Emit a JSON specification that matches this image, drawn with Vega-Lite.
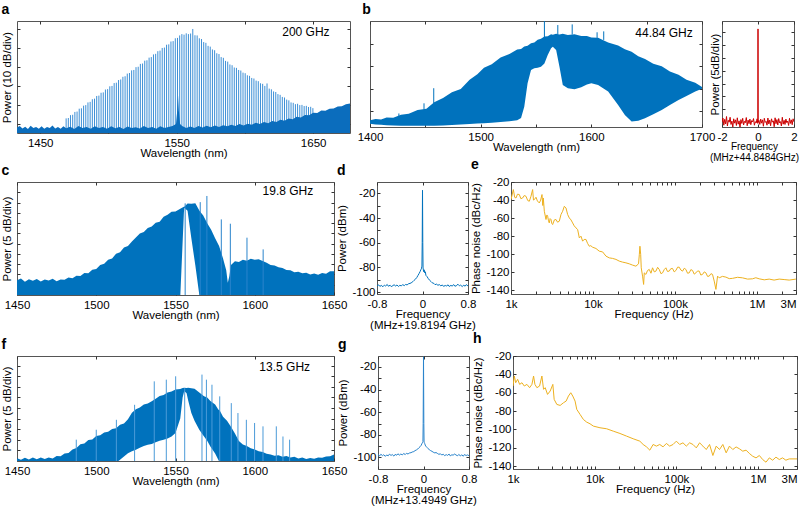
{
"$schema":"https://vega.github.io/schema/vega-lite/v6.json",
"padding":{"left":1,"top":2,"right":0,"bottom":0},
"datasets":{
"a_comb":[{"wl":1469.0,"p":-67.0},{"wl":1470.6,"p":-66.8},{"wl":1472.2,"p":-65.3},{"wl":1473.8,"p":-65.1},{"wl":1475.4,"p":-63.6},{"wl":1477.0,"p":-63.4},{"wl":1478.6,"p":-61.9},{"wl":1480.2,"p":-61.7},{"wl":1481.8,"p":-60.3},{"wl":1483.4,"p":-60.0},{"wl":1485.0,"p":-58.6},{"wl":1486.6,"p":-58.3},{"wl":1488.2,"p":-56.9},{"wl":1489.8,"p":-56.6},{"wl":1491.4,"p":-55.2},{"wl":1493.0,"p":-55.0},{"wl":1494.6,"p":-53.5},{"wl":1496.2,"p":-53.3},{"wl":1497.8,"p":-51.8},{"wl":1499.4,"p":-51.6},{"wl":1501.0,"p":-50.1},{"wl":1502.6,"p":-49.9},{"wl":1504.2,"p":-48.4},{"wl":1505.8,"p":-48.2},{"wl":1507.4,"p":-46.8},{"wl":1509.0,"p":-46.5},{"wl":1510.6,"p":-45.1},{"wl":1512.2,"p":-44.8},{"wl":1513.8,"p":-43.4},{"wl":1515.4,"p":-43.1},{"wl":1517.0,"p":-41.7},{"wl":1518.6,"p":-41.5},{"wl":1520.2,"p":-40.0},{"wl":1521.8,"p":-39.8},{"wl":1523.4,"p":-38.3},{"wl":1525.0,"p":-38.1},{"wl":1526.6,"p":-36.6},{"wl":1528.2,"p":-36.4},{"wl":1529.8,"p":-35.0},{"wl":1531.4,"p":-34.7},{"wl":1533.0,"p":-33.3},{"wl":1534.6,"p":-33.0},{"wl":1536.2,"p":-31.6},{"wl":1537.8,"p":-31.3},{"wl":1539.4,"p":-29.9},{"wl":1541.0,"p":-29.7},{"wl":1542.6,"p":-28.2},{"wl":1544.2,"p":-28.0},{"wl":1545.8,"p":-26.5},{"wl":1547.4,"p":-26.3},{"wl":1549.0,"p":-24.8},{"wl":1550.6,"p":-24.6},{"wl":1552.2,"p":-23.3},{"wl":1553.8,"p":-22.6},{"wl":1555.4,"p":-22.9},{"wl":1557.0,"p":-22.2},{"wl":1558.6,"p":-22.6},{"wl":1560.2,"p":-22.3},{"wl":1561.8,"p":-19.9},{"wl":1563.4,"p":-23.2},{"wl":1565.0,"p":-23.3},{"wl":1566.6,"p":-24.8},{"wl":1568.2,"p":-25.2},{"wl":1569.8,"p":-26.8},{"wl":1571.4,"p":-27.2},{"wl":1573.0,"p":-28.8},{"wl":1574.6,"p":-29.2},{"wl":1576.2,"p":-30.7},{"wl":1577.8,"p":-31.1},{"wl":1579.4,"p":-32.7},{"wl":1581.0,"p":-33.1},{"wl":1582.6,"p":-34.7},{"wl":1584.2,"p":-35.1},{"wl":1585.8,"p":-36.7},{"wl":1587.4,"p":-37.1},{"wl":1589.0,"p":-38.6},{"wl":1590.6,"p":-39.0},{"wl":1592.2,"p":-40.2},{"wl":1593.8,"p":-40.4},{"wl":1595.4,"p":-41.5},{"wl":1597.0,"p":-41.8},{"wl":1598.6,"p":-42.9},{"wl":1600.2,"p":-43.2},{"wl":1601.8,"p":-44.3},{"wl":1603.4,"p":-44.6},{"wl":1605.0,"p":-45.7},{"wl":1606.6,"p":-46.0},{"wl":1608.2,"p":-47.1},{"wl":1609.8,"p":-47.4},{"wl":1611.4,"p":-48.5},{"wl":1613.0,"p":-48.8},{"wl":1614.6,"p":-49.9},{"wl":1616.2,"p":-48.6},{"wl":1617.8,"p":-51.3},{"wl":1619.4,"p":-51.7},{"wl":1621.0,"p":-52.8},{"wl":1622.6,"p":-53.1},{"wl":1624.2,"p":-54.2},{"wl":1625.8,"p":-54.6},{"wl":1627.4,"p":-55.7},{"wl":1629.0,"p":-56.0},{"wl":1630.6,"p":-57.1},{"wl":1632.2,"p":-57.5},{"wl":1633.8,"p":-58.6},{"wl":1635.4,"p":-58.8},{"wl":1637.0,"p":-59.5},{"wl":1638.6,"p":-59.3},{"wl":1640.2,"p":-60.0},{"wl":1641.8,"p":-59.9},{"wl":1643.4,"p":-60.5},{"wl":1645.0,"p":-60.4},{"wl":1646.6,"p":-61.0},{"wl":1648.2,"p":-60.9},{"wl":1649.8,"p":-61.6}],
"a_floor":[{"wl":1433,"p":-71.8},{"wl":1435,"p":-71.0},{"wl":1437,"p":-72.3},{"wl":1439,"p":-71.4},{"wl":1441,"p":-72.6},{"wl":1443,"p":-70.9},{"wl":1445,"p":-72.0},{"wl":1447,"p":-71.5},{"wl":1449,"p":-72.4},{"wl":1451,"p":-71.2},{"wl":1453,"p":-72.5},{"wl":1455,"p":-71.6},{"wl":1457,"p":-72.1},{"wl":1459,"p":-70.8},{"wl":1461,"p":-72.3},{"wl":1463,"p":-71.5},{"wl":1465,"p":-72.4},{"wl":1467,"p":-71.1},{"wl":1469,"p":-72.2},{"wl":1472,"p":-71.4},{"wl":1475,"p":-72.6},{"wl":1478,"p":-71.0},{"wl":1481,"p":-72.1},{"wl":1484,"p":-71.5},{"wl":1487,"p":-72.5},{"wl":1490,"p":-71.2},{"wl":1493,"p":-72.0},{"wl":1496,"p":-71.6},{"wl":1499,"p":-72.4},{"wl":1502,"p":-71.1},{"wl":1505,"p":-72.2},{"wl":1508,"p":-71.5},{"wl":1511,"p":-72.6},{"wl":1514,"p":-71.3},{"wl":1517,"p":-72.0},{"wl":1520,"p":-71.7},{"wl":1523,"p":-72.3},{"wl":1526,"p":-71.0},{"wl":1529,"p":-72.1},{"wl":1532,"p":-71.6},{"wl":1535,"p":-72.4},{"wl":1538,"p":-71.2},{"wl":1541,"p":-72.0},{"wl":1544,"p":-71.5},{"wl":1547,"p":-71.0},{"wl":1549.5,"p":-70.0},{"wl":1550.4,"p":-63.0},{"wl":1551,"p":-55.0},{"wl":1551.6,"p":-63.0},{"wl":1552.5,"p":-70.0},{"wl":1554,"p":-71.0},{"wl":1557,"p":-72.0},{"wl":1560,"p":-71.3},{"wl":1563,"p":-72.1},{"wl":1566,"p":-71.0},{"wl":1569,"p":-71.8},{"wl":1572,"p":-70.9},{"wl":1575,"p":-71.7},{"wl":1578,"p":-70.8},{"wl":1581,"p":-71.5},{"wl":1584,"p":-70.6},{"wl":1587,"p":-71.2},{"wl":1590,"p":-70.3},{"wl":1593,"p":-71.0},{"wl":1596,"p":-70.0},{"wl":1599,"p":-70.8},{"wl":1602,"p":-69.8},{"wl":1605,"p":-70.4},{"wl":1608,"p":-69.3},{"wl":1611,"p":-70.0},{"wl":1614,"p":-68.9},{"wl":1617,"p":-69.5},{"wl":1620,"p":-68.4},{"wl":1623,"p":-68.9},{"wl":1626,"p":-67.7},{"wl":1629,"p":-68.2},{"wl":1632,"p":-67.0},{"wl":1635,"p":-67.4},{"wl":1638,"p":-66.2},{"wl":1641,"p":-66.5},{"wl":1644,"p":-65.2},{"wl":1647,"p":-65.4},{"wl":1650,"p":-64.0},{"wl":1653,"p":-64.2},{"wl":1656,"p":-62.9},{"wl":1659,"p":-63.0},{"wl":1662,"p":-61.9},{"wl":1665,"p":-61.8},{"wl":1668,"p":-60.7},{"wl":1671,"p":-60.6},{"wl":1674,"p":-59.5},{"wl":1677,"p":-59.2}],
"b_env":[{"wl":1400,"top":-54.0,"bot":-55.6},{"wl":1405,"top":-53.4,"bot":-55.9},{"wl":1410,"top":-53.7,"bot":-56.0},{"wl":1415,"top":-52.8,"bot":-56.2},{"wl":1421,"top":-52.9,"bot":-56.3},{"wl":1428,"top":-51.6,"bot":-56.4},{"wl":1435,"top":-51.1,"bot":-56.5},{"wl":1443,"top":-49.5,"bot":-56.5},{"wl":1451,"top":-48.9,"bot":-56.5},{"wl":1458,"top":-46.0,"bot":-56.4},{"wl":1466,"top":-44.1,"bot":-56.3},{"wl":1474,"top":-41.6,"bot":-56.1},{"wl":1482,"top":-40.1,"bot":-55.9},{"wl":1490,"top":-36.1,"bot":-55.7},{"wl":1497,"top":-33.6,"bot":-55.5},{"wl":1503,"top":-30.7,"bot":-55.3},{"wl":1510,"top":-29.2,"bot":-55.1},{"wl":1518,"top":-26.2,"bot":-54.8},{"wl":1526,"top":-24.6,"bot":-54.5},{"wl":1533,"top":-22.6,"bot":-54.0},{"wl":1536.5,"top":-22.4,"bot":-53.0},{"wl":1539.4,"top":-21.3,"bot":-48.0},{"wl":1542.4,"top":-21.0,"bot":-37.6},{"wl":1545.5,"top":-19.9,"bot":-31.7},{"wl":1548.5,"top":-19.5,"bot":-31.0},{"wl":1551.5,"top":-18.3,"bot":-30.7},{"wl":1554.5,"top":-17.9,"bot":-30.3},{"wl":1557.6,"top":-16.9,"bot":-28.8},{"wl":1560.6,"top":-16.8,"bot":-25.1},{"wl":1563.6,"top":-15.9,"bot":-22.1},{"wl":1565.2,"top":-16.1,"bot":-21.4},{"wl":1568.2,"top":-15.6,"bot":-22.9},{"wl":1571.2,"top":-16.0,"bot":-30.3},{"wl":1574.2,"top":-15.7,"bot":-38.4},{"wl":1578.8,"top":-16.2,"bot":-39.8},{"wl":1584.8,"top":-15.9,"bot":-40.3},{"wl":1590.9,"top":-16.6,"bot":-39.4},{"wl":1596,"top":-16.6,"bot":-38.2},{"wl":1600,"top":-17.3,"bot":-37.6},{"wl":1606.1,"top":-17.4,"bot":-38.4},{"wl":1615.2,"top":-19.5,"bot":-41.3},{"wl":1624.2,"top":-20.9,"bot":-47.2},{"wl":1630.3,"top":-22.5,"bot":-51.7},{"wl":1636.4,"top":-23.6,"bot":-54.6},{"wl":1642.4,"top":-25.6,"bot":-54.2},{"wl":1648.5,"top":-26.8,"bot":-53.1},{"wl":1656,"top":-28.9,"bot":-51.3},{"wl":1663.6,"top":-30.1,"bot":-49.5},{"wl":1671,"top":-32.4,"bot":-47.3},{"wl":1678.8,"top":-33.8,"bot":-45.0},{"wl":1686,"top":-36.0,"bot":-43.2},{"wl":1693.9,"top":-37.4,"bot":-41.3},{"wl":1700,"top":-39.3,"bot":-40.0}],
"b_spk":[{"wl":1426.1,"top":-51.0,"base":-53.3},{"wl":1448.8,"top":-46.5,"base":-49.3},{"wl":1457.6,"top":-39.8,"base":-46.6},{"wl":1557.6,"top":-10.0,"base":-17.1},{"wl":1569.7,"top":-11.8,"base":-15.8},{"wl":1582.7,"top":-11.5,"base":-16.0},{"wl":1605.2,"top":-15.0,"base":-17.5},{"wl":1611.2,"top":-14.6,"base":-18.4}],
"inset":[{"f":-2.00,"p":-70.2},{"f":-1.95,"p":-68.5},{"f":-1.90,"p":-71.3},{"f":-1.85,"p":-69.0},{"f":-1.80,"p":-70.8},{"f":-1.75,"p":-67.9},{"f":-1.70,"p":-71.6},{"f":-1.65,"p":-69.4},{"f":-1.60,"p":-70.1},{"f":-1.55,"p":-68.2},{"f":-1.50,"p":-71.0},{"f":-1.45,"p":-69.7},{"f":-1.40,"p":-72.0},{"f":-1.35,"p":-68.8},{"f":-1.30,"p":-70.5},{"f":-1.25,"p":-69.2},{"f":-1.20,"p":-71.4},{"f":-1.15,"p":-68.4},{"f":-1.10,"p":-70.9},{"f":-1.05,"p":-69.6},{"f":-1.00,"p":-72.3},{"f":-0.95,"p":-69.1},{"f":-0.90,"p":-70.6},{"f":-0.85,"p":-68.6},{"f":-0.80,"p":-71.2},{"f":-0.75,"p":-69.8},{"f":-0.70,"p":-70.3},{"f":-0.65,"p":-68.3},{"f":-0.60,"p":-71.5},{"f":-0.55,"p":-69.3},{"f":-0.50,"p":-70.7},{"f":-0.45,"p":-68.9},{"f":-0.40,"p":-71.1},{"f":-0.35,"p":-69.5},{"f":-0.30,"p":-70.0},{"f":-0.25,"p":-68.7},{"f":-0.20,"p":-71.3},{"f":-0.15,"p":-69.9},{"f":-0.10,"p":-70.4},{"f":-0.05,"p":-68.8},{"f":-0.01,"p":-70.6},{"f":0.00,"p":-33.6},{"f":0.01,"p":-70.2},{"f":0.05,"p":-69.4},{"f":0.10,"p":-71.0},{"f":0.15,"p":-68.9},{"f":0.20,"p":-70.5},{"f":0.25,"p":-69.2},{"f":0.30,"p":-71.7},{"f":0.35,"p":-68.6},{"f":0.40,"p":-70.2},{"f":0.45,"p":-69.8},{"f":0.50,"p":-71.3},{"f":0.55,"p":-68.5},{"f":0.60,"p":-70.8},{"f":0.65,"p":-69.3},{"f":0.70,"p":-71.5},{"f":0.75,"p":-68.8},{"f":0.80,"p":-70.1},{"f":0.85,"p":-69.6},{"f":0.90,"p":-71.9},{"f":0.95,"p":-68.4},{"f":1.00,"p":-70.7},{"f":1.05,"p":-69.1},{"f":1.10,"p":-71.2},{"f":1.15,"p":-68.7},{"f":1.20,"p":-70.4},{"f":1.25,"p":-69.9},{"f":1.30,"p":-71.6},{"f":1.35,"p":-68.2},{"f":1.40,"p":-70.9},{"f":1.45,"p":-69.4},{"f":1.50,"p":-71.0},{"f":1.55,"p":-68.9},{"f":1.60,"p":-70.3},{"f":1.65,"p":-69.7},{"f":1.70,"p":-71.4},{"f":1.75,"p":-68.6},{"f":1.80,"p":-70.6},{"f":1.85,"p":-69.2},{"f":1.90,"p":-71.1},{"f":1.95,"p":-68.8},{"f":2.00,"p":-70.0}],
"c_env":[{"wl":1450,"top":-57.8,"bot":-66},{"wl":1452.5,"top":-57.0,"bot":-66},{"wl":1455,"top":-58.6,"bot":-66},{"wl":1457.5,"top":-57.3,"bot":-66},{"wl":1460,"top":-58.1,"bot":-66},{"wl":1462.5,"top":-57.2,"bot":-66},{"wl":1465,"top":-58.4,"bot":-66},{"wl":1467.5,"top":-57.5,"bot":-66},{"wl":1470,"top":-58.0,"bot":-66},{"wl":1472.5,"top":-57.1,"bot":-66},{"wl":1475,"top":-58.3,"bot":-66},{"wl":1477.5,"top":-57.4,"bot":-66},{"wl":1480,"top":-57.6,"bot":-66},{"wl":1482.5,"top":-56.5,"bot":-66},{"wl":1485,"top":-56.9,"bot":-66},{"wl":1487.5,"top":-55.6,"bot":-66},{"wl":1490,"top":-55.8,"bot":-66},{"wl":1492.5,"top":-54.3,"bot":-66},{"wl":1495,"top":-54.4,"bot":-66},{"wl":1497.5,"top":-52.7,"bot":-66},{"wl":1500,"top":-52.3,"bot":-66},{"wl":1502.5,"top":-50.4,"bot":-66},{"wl":1505,"top":-49.8,"bot":-66},{"wl":1507.5,"top":-47.8,"bot":-66},{"wl":1510,"top":-47.2,"bot":-66},{"wl":1512.5,"top":-44.9,"bot":-66},{"wl":1515,"top":-44.2,"bot":-66},{"wl":1517.5,"top":-41.9,"bot":-66},{"wl":1520,"top":-41.2,"bot":-66},{"wl":1522.5,"top":-39.0,"bot":-66},{"wl":1525,"top":-37.0,"bot":-66},{"wl":1527.5,"top":-35.1,"bot":-66},{"wl":1530,"top":-34.3,"bot":-66},{"wl":1532.5,"top":-32.4,"bot":-66},{"wl":1535,"top":-31.7,"bot":-66},{"wl":1537.5,"top":-29.8,"bot":-66},{"wl":1540,"top":-29.3,"bot":-66},{"wl":1542.5,"top":-26.9,"bot":-66},{"wl":1545,"top":-26.0,"bot":-66},{"wl":1547.5,"top":-24.5,"bot":-66},{"wl":1550,"top":-24.4,"bot":-66},{"wl":1553,"top":-23.0,"bot":-66},{"wl":1555.3,"top":-22.0,"bot":-25.0},{"wl":1555.6,"top":-22.0,"bot":-22.5},{"wl":1557.6,"top":-20.5,"bot":-24.0},{"wl":1560,"top":-20.6,"bot":-37.4},{"wl":1562.5,"top":-20.4,"bot":-50.5},{"wl":1565.2,"top":-24.1,"bot":-66},{"wl":1567.5,"top":-26.3,"bot":-66},{"wl":1570,"top":-30.1,"bot":-66},{"wl":1572.5,"top":-33.2,"bot":-66},{"wl":1575,"top":-37.4,"bot":-66},{"wl":1577.5,"top":-41.2,"bot":-66},{"wl":1580,"top":-47.2,"bot":-66},{"wl":1582,"top":-53.0,"bot":-66},{"wl":1583,"top":-59.0,"bot":-66},{"wl":1584,"top":-55.7,"bot":-66},{"wl":1585,"top":-50.4,"bot":-66},{"wl":1587.5,"top":-48.6,"bot":-66},{"wl":1590,"top":-48.9,"bot":-66},{"wl":1592.5,"top":-47.9,"bot":-66},{"wl":1595,"top":-48.3,"bot":-66},{"wl":1597.5,"top":-47.3,"bot":-66},{"wl":1600,"top":-47.9,"bot":-66},{"wl":1602.5,"top":-47.6,"bot":-66},{"wl":1605,"top":-48.4,"bot":-66},{"wl":1607.5,"top":-49.3,"bot":-66},{"wl":1610,"top":-50.4,"bot":-66},{"wl":1612.5,"top":-50.6,"bot":-66},{"wl":1615,"top":-51.5,"bot":-66},{"wl":1617.5,"top":-51.9,"bot":-66},{"wl":1620,"top":-52.8,"bot":-66},{"wl":1622.5,"top":-52.9,"bot":-66},{"wl":1625,"top":-53.9,"bot":-66},{"wl":1627.5,"top":-53.7,"bot":-66},{"wl":1630,"top":-54.4,"bot":-66},{"wl":1632.5,"top":-54.2,"bot":-66},{"wl":1635,"top":-55.0,"bot":-66},{"wl":1637.5,"top":-54.5,"bot":-66},{"wl":1640,"top":-55.2,"bot":-66},{"wl":1642.5,"top":-54.3,"bot":-66},{"wl":1645,"top":-54.6,"bot":-66},{"wl":1647.5,"top":-53.4,"bot":-66},{"wl":1650,"top":-53.5,"bot":-66}],
"c_spk":[{"wl":1556.1,"top":-20.4},{"wl":1565.6,"top":-19.8},{"wl":1569.8,"top":-16.8},{"wl":1578.9,"top":-28.2},{"wl":1584.6,"top":-30.3},{"wl":1595.1,"top":-37.1},{"wl":1605.3,"top":-42.8}],
"f_env":[{"wl":1450,"top":-63.8,"bot":-66},{"wl":1452.5,"top":-64.5,"bot":-66},{"wl":1455,"top":-63.6,"bot":-66},{"wl":1457.5,"top":-64.4,"bot":-66},{"wl":1460,"top":-63.5,"bot":-66},{"wl":1462.5,"top":-64.3,"bot":-66},{"wl":1465,"top":-63.4,"bot":-66},{"wl":1467.5,"top":-64.2,"bot":-66},{"wl":1470,"top":-63.5,"bot":-66},{"wl":1472.5,"top":-63.9,"bot":-66},{"wl":1475,"top":-62.7,"bot":-66},{"wl":1477.5,"top":-62.9,"bot":-66},{"wl":1480,"top":-61.6,"bot":-66},{"wl":1482.5,"top":-61.3,"bot":-66},{"wl":1485,"top":-59.7,"bot":-66},{"wl":1487.5,"top":-58.9,"bot":-66},{"wl":1490,"top":-57.2,"bot":-66},{"wl":1492.5,"top":-56.8,"bot":-66},{"wl":1495,"top":-55.2,"bot":-66},{"wl":1497.5,"top":-54.9,"bot":-66},{"wl":1500,"top":-53.3,"bot":-66},{"wl":1502.5,"top":-52.9,"bot":-66},{"wl":1505,"top":-51.6,"bot":-66},{"wl":1507.5,"top":-51.3,"bot":-66},{"wl":1510,"top":-50.0,"bot":-66},{"wl":1512.5,"top":-49.6,"bot":-66},{"wl":1515,"top":-48.0,"bot":-64.5},{"wl":1517.5,"top":-47.3,"bot":-63.0},{"wl":1520,"top":-45.3,"bot":-61.4},{"wl":1522.5,"top":-42.3,"bot":-60.5},{"wl":1525,"top":-40.6,"bot":-59.8},{"wl":1527.5,"top":-39.8,"bot":-58.8},{"wl":1530,"top":-38.3,"bot":-58.0},{"wl":1532.5,"top":-37.9,"bot":-57.4},{"wl":1535,"top":-36.8,"bot":-57.0},{"wl":1537.5,"top":-35.6,"bot":-56.2},{"wl":1540,"top":-34.3,"bot":-55.5},{"wl":1542.5,"top":-33.9,"bot":-55.0},{"wl":1545,"top":-32.7,"bot":-54.5},{"wl":1547.5,"top":-32.2,"bot":-53.5},{"wl":1550,"top":-31.2,"bot":-51.9},{"wl":1553,"top":-31.0,"bot":-45.0},{"wl":1554.5,"top":-30.6,"bot":-35.0},{"wl":1555.5,"top":-30.4,"bot":-32.0},{"wl":1557,"top":-30.6,"bot":-33.0},{"wl":1558,"top":-30.4,"bot":-36.5},{"wl":1560,"top":-30.7,"bot":-42.4},{"wl":1562,"top":-30.9,"bot":-46.0},{"wl":1565,"top":-32.7,"bot":-50.3},{"wl":1568,"top":-34.4,"bot":-53.5},{"wl":1570,"top":-35.1,"bot":-55.5},{"wl":1572,"top":-36.7,"bot":-58.2},{"wl":1575,"top":-38.3,"bot":-61.5},{"wl":1577,"top":-40.7,"bot":-64.5},{"wl":1578,"top":-41.3,"bot":-66},{"wl":1580,"top":-44.2,"bot":-66},{"wl":1582.5,"top":-46.0,"bot":-66},{"wl":1585,"top":-48.9,"bot":-66},{"wl":1587.5,"top":-52.1,"bot":-66},{"wl":1590,"top":-55.6,"bot":-66},{"wl":1592.5,"top":-57.3,"bot":-66},{"wl":1595,"top":-58.0,"bot":-66},{"wl":1597.5,"top":-59.1,"bot":-66},{"wl":1600,"top":-59.6,"bot":-66},{"wl":1602.5,"top":-60.5,"bot":-66},{"wl":1605,"top":-60.8,"bot":-66},{"wl":1607.5,"top":-61.7,"bot":-66},{"wl":1610,"top":-62.0,"bot":-66},{"wl":1612.5,"top":-62.6,"bot":-66},{"wl":1615,"top":-62.4,"bot":-66},{"wl":1617.5,"top":-63.1,"bot":-66},{"wl":1620,"top":-62.7,"bot":-66},{"wl":1622.5,"top":-63.4,"bot":-66},{"wl":1625,"top":-63.1,"bot":-66},{"wl":1627.5,"top":-63.9,"bot":-66},{"wl":1630,"top":-63.5,"bot":-66},{"wl":1632.5,"top":-64.1,"bot":-66},{"wl":1635,"top":-63.7,"bot":-66},{"wl":1637.5,"top":-64.0,"bot":-66},{"wl":1640,"top":-63.4,"bot":-66},{"wl":1642.5,"top":-63.6,"bot":-66},{"wl":1645,"top":-63.0,"bot":-66},{"wl":1647.5,"top":-62.8,"bot":-66},{"wl":1650,"top":-62.0,"bot":-66}],
"f_spk":[{"wl":1487.4,"top":-55.0},{"wl":1500.0,"top":-50.3},{"wl":1512.7,"top":-45.6},{"wl":1524.2,"top":-38.5},{"wl":1536.6,"top":-27.4},{"wl":1544.2,"top":-26.6},{"wl":1550.1,"top":-25.0},{"wl":1555.8,"top":-30.6},{"wl":1566.7,"top":-24.2},{"wl":1569.5,"top":-26.6},{"wl":1573.0,"top":-29.0},{"wl":1577.9,"top":-34.5},{"wl":1585.2,"top":-37.7},{"wl":1589.4,"top":-42.4},{"wl":1594.7,"top":-45.6},{"wl":1599.9,"top":-47.1},{"wl":1605.2,"top":-48.7},{"wl":1613.6,"top":-48.7},{"wl":1617.8,"top":-53.5},{"wl":1622.0,"top":-55.0}],
"d":[{"f":-0.80,"p":-95.0},{"f":-0.77,"p":-94.2},{"f":-0.75,"p":-95.4},{"f":-0.72,"p":-94.6},{"f":-0.70,"p":-95.8},{"f":-0.67,"p":-94.4},{"f":-0.65,"p":-95.1},{"f":-0.62,"p":-93.9},{"f":-0.60,"p":-95.3},{"f":-0.57,"p":-94.5},{"f":-0.55,"p":-95.6},{"f":-0.52,"p":-94.8},{"f":-0.50,"p":-94.1},{"f":-0.47,"p":-95.2},{"f":-0.45,"p":-94.3},{"f":-0.42,"p":-95.5},{"f":-0.40,"p":-94.6},{"f":-0.37,"p":-95.0},{"f":-0.35,"p":-94.0},{"f":-0.32,"p":-94.8},{"f":-0.30,"p":-93.9},{"f":-0.27,"p":-94.2},{"f":-0.25,"p":-93.4},{"f":-0.22,"p":-93.0},{"f":-0.20,"p":-92.6},{"f":-0.17,"p":-91.6},{"f":-0.15,"p":-90.6},{"f":-0.12,"p":-89.4},{"f":-0.10,"p":-88.2},{"f":-0.08,"p":-86.6},{"f":-0.06,"p":-85.0},{"f":-0.04,"p":-83.2},{"f":-0.03,"p":-82.0},{"f":-0.02,"p":-81.2},{"f":-0.01,"p":-79.0},{"f":-0.005,"p":-60.0},{"f":0.0,"p":-17.5},{"f":0.005,"p":-60.0},{"f":0.01,"p":-80.5},{"f":0.02,"p":-83.5},{"f":0.03,"p":-82.0},{"f":0.04,"p":-84.5},{"f":0.05,"p":-83.6},{"f":0.06,"p":-86.5},{"f":0.08,"p":-87.5},{"f":0.10,"p":-89.0},{"f":0.12,"p":-90.2},{"f":0.15,"p":-91.5},{"f":0.17,"p":-92.5},{"f":0.20,"p":-93.0},{"f":0.22,"p":-94.0},{"f":0.25,"p":-93.6},{"f":0.27,"p":-94.5},{"f":0.30,"p":-94.0},{"f":0.32,"p":-95.0},{"f":0.35,"p":-94.3},{"f":0.37,"p":-95.4},{"f":0.40,"p":-94.7},{"f":0.42,"p":-95.1},{"f":0.45,"p":-94.2},{"f":0.47,"p":-95.5},{"f":0.50,"p":-94.6},{"f":0.52,"p":-95.2},{"f":0.55,"p":-94.0},{"f":0.57,"p":-95.3},{"f":0.60,"p":-94.8},{"f":0.62,"p":-93.6},{"f":0.65,"p":-95.0},{"f":0.67,"p":-94.4},{"f":0.70,"p":-95.6},{"f":0.72,"p":-94.5},{"f":0.75,"p":-95.2},{"f":0.77,"p":-94.0},{"f":0.80,"p":-95.1}],
"g":[{"f":-0.80,"p":-97.5},{"f":-0.77,"p":-98.6},{"f":-0.75,"p":-97.2},{"f":-0.72,"p":-98.4},{"f":-0.70,"p":-97.6},{"f":-0.67,"p":-99.0},{"f":-0.65,"p":-97.8},{"f":-0.62,"p":-98.5},{"f":-0.60,"p":-97.1},{"f":-0.57,"p":-98.2},{"f":-0.55,"p":-97.4},{"f":-0.52,"p":-98.8},{"f":-0.50,"p":-97.3},{"f":-0.47,"p":-98.0},{"f":-0.45,"p":-96.8},{"f":-0.42,"p":-97.9},{"f":-0.40,"p":-97.0},{"f":-0.37,"p":-97.7},{"f":-0.35,"p":-96.5},{"f":-0.32,"p":-97.4},{"f":-0.30,"p":-96.3},{"f":-0.27,"p":-97.0},{"f":-0.25,"p":-96.0},{"f":-0.22,"p":-95.8},{"f":-0.20,"p":-95.2},{"f":-0.17,"p":-94.8},{"f":-0.15,"p":-94.0},{"f":-0.12,"p":-93.2},{"f":-0.10,"p":-92.5},{"f":-0.08,"p":-91.4},{"f":-0.06,"p":-90.5},{"f":-0.04,"p":-89.2},{"f":-0.03,"p":-88.0},{"f":-0.02,"p":-87.0},{"f":-0.01,"p":-86.0},{"f":-0.006,"p":-70.0},{"f":0.0,"p":-11.0},{"f":0.006,"p":-70.0},{"f":0.01,"p":-86.5},{"f":0.02,"p":-87.5},{"f":0.03,"p":-89.0},{"f":0.04,"p":-90.0},{"f":0.06,"p":-91.0},{"f":0.08,"p":-92.2},{"f":0.10,"p":-93.0},{"f":0.12,"p":-93.8},{"f":0.15,"p":-94.6},{"f":0.17,"p":-95.3},{"f":0.20,"p":-96.0},{"f":0.22,"p":-95.6},{"f":0.25,"p":-96.6},{"f":0.27,"p":-97.2},{"f":0.30,"p":-96.8},{"f":0.32,"p":-97.8},{"f":0.35,"p":-97.2},{"f":0.37,"p":-98.4},{"f":0.40,"p":-97.5},{"f":0.42,"p":-98.2},{"f":0.45,"p":-97.0},{"f":0.47,"p":-98.6},{"f":0.50,"p":-97.6},{"f":0.52,"p":-98.0},{"f":0.55,"p":-96.9},{"f":0.57,"p":-97.8},{"f":0.60,"p":-98.5},{"f":0.62,"p":-97.3},{"f":0.65,"p":-98.7},{"f":0.67,"p":-97.6},{"f":0.70,"p":-98.9},{"f":0.72,"p":-97.4},{"f":0.75,"p":-98.3},{"f":0.77,"p":-97.7},{"f":0.80,"p":-98.4}],
"e":[{"f":1000,"p":-39.5},{"f":1068,"p":-28.4},{"f":1110,"p":-37.0},{"f":1151,"p":-37.7},{"f":1200,"p":-33.5},{"f":1263,"p":-33.9},{"f":1320,"p":-38.5},{"f":1386,"p":-37.7},{"f":1450,"p":-35.0},{"f":1524,"p":-35.8},{"f":1600,"p":-40.5},{"f":1673,"p":-41.3},{"f":1753,"p":-35.8},{"f":1836,"p":-28.4},{"f":1880,"p":-40.0},{"f":1926,"p":-39.5},{"f":2018,"p":-36.9},{"f":2100,"p":-41.0},{"f":2216,"p":-43.2},{"f":2300,"p":-40.0},{"f":2388,"p":-33.9},{"f":2440,"p":-46.0},{"f":2478,"p":-37.7},{"f":2550,"p":-52.4},{"f":2672,"p":-61.5},{"f":2740,"p":-56.5},{"f":2800,"p":-57.9},{"f":2870,"p":-63.0},{"f":2930,"p":-65.3},{"f":3000,"p":-60.5},{"f":3074,"p":-61.5},{"f":3150,"p":-66.0},{"f":3220,"p":-67.1},{"f":3380,"p":-62.0},{"f":3538,"p":-61.5},{"f":3700,"p":-64.5},{"f":3882,"p":-63.4},{"f":4072,"p":-56.0},{"f":4265,"p":-52.4},{"f":4470,"p":-46.9},{"f":4686,"p":-48.7},{"f":4911,"p":-56.0},{"f":5145,"p":-59.8},{"f":5400,"p":-62.0},{"f":5650,"p":-65.3},{"f":5900,"p":-68.5},{"f":6204,"p":-70.8},{"f":6500,"p":-72.6},{"f":6818,"p":-81.9},{"f":7141,"p":-80.0},{"f":7482,"p":-85.5},{"f":7800,"p":-83.6},{"f":8214,"p":-83.6},{"f":8600,"p":-88.0},{"f":9016,"p":-91.1},{"f":9400,"p":-90.5},{"f":9900,"p":-92.2},{"f":10880,"p":-93.6},{"f":11940,"p":-96.6},{"f":13120,"p":-97.4},{"f":14410,"p":-102.1},{"f":15820,"p":-104.0},{"f":17370,"p":-104.6},{"f":19080,"p":-105.7},{"f":20930,"p":-107.6},{"f":22970,"p":-108.7},{"f":25240,"p":-109.5},{"f":27730,"p":-110.6},{"f":30410,"p":-112.0},{"f":33420,"p":-113.2},{"f":35970,"p":-110.6},{"f":36800,"p":-100.0},{"f":37410,"p":-91.1},{"f":38200,"p":-100.0},{"f":38820,"p":-115.0},{"f":40270,"p":-124.2},{"f":41500,"p":-133.4},{"f":42270,"p":-120.6},{"f":44260,"p":-122.3},{"f":46300,"p":-118.0},{"f":48600,"p":-116.8},{"f":51000,"p":-121.0},{"f":53330,"p":-115.0},{"f":56000,"p":-119.5},{"f":58610,"p":-118.7},{"f":61500,"p":-114.5},{"f":64300,"p":-116.8},{"f":67500,"p":-121.5},{"f":70600,"p":-120.6},{"f":74000,"p":-117.0},{"f":77600,"p":-115.0},{"f":81000,"p":-119.0},{"f":85100,"p":-118.7},{"f":89000,"p":-116.0},{"f":93500,"p":-115.7},{"f":98000,"p":-119.5},{"f":102900,"p":-117.9},{"f":107800,"p":-114.3},{"f":112800,"p":-114.3},{"f":118300,"p":-117.5},{"f":123900,"p":-118.7},{"f":130000,"p":-115.5},{"f":136100,"p":-116.8},{"f":142500,"p":-121.0},{"f":149400,"p":-120.6},{"f":156500,"p":-117.0},{"f":163900,"p":-117.9},{"f":172000,"p":-122.0},{"f":180300,"p":-120.6},{"f":189000,"p":-118.5},{"f":197900,"p":-118.7},{"f":207000,"p":-123.0},{"f":217200,"p":-122.3},{"f":228000,"p":-119.5},{"f":238800,"p":-120.6},{"f":250000,"p":-124.5},{"f":262000,"p":-124.2},{"f":275000,"p":-121.5},{"f":287500,"p":-122.3},{"f":301500,"p":-129.7},{"f":316200,"p":-138.9},{"f":331300,"p":-124.2},{"f":347000,"p":-126.1},{"f":380000,"p":-124.5},{"f":418800,"p":-125.3},{"f":460000,"p":-127.0},{"f":504000,"p":-126.7},{"f":580000,"p":-125.5},{"f":667000,"p":-126.1},{"f":770000,"p":-127.5},{"f":883600,"p":-127.2},{"f":970000,"p":-126.0},{"f":1067000,"p":-127.2},{"f":1230000,"p":-128.3},{"f":1413000,"p":-127.5},{"f":1620000,"p":-128.6},{"f":1871000,"p":-127.5},{"f":2150000,"p":-128.0},{"f":2478000,"p":-128.6},{"f":2990000,"p":-127.5}],
"h":[{"f":1000,"p":-52.7},{"f":1038,"p":-41.8},{"f":1078,"p":-49.1},{"f":1140,"p":-45.4},{"f":1206,"p":-50.9},{"f":1288,"p":-49.1},{"f":1375,"p":-52.7},{"f":1481,"p":-50.9},{"f":1597,"p":-54.5},{"f":1705,"p":-50.9},{"f":1786,"p":-41.8},{"f":1855,"p":-50.9},{"f":1962,"p":-54.5},{"f":2114,"p":-52.7},{"f":2258,"p":-41.8},{"f":2366,"p":-56.3},{"f":2480,"p":-54.5},{"f":2648,"p":-61.8},{"f":2853,"p":-58.1},{"f":3074,"p":-50.9},{"f":3192,"p":-67.2},{"f":3440,"p":-72.7},{"f":3778,"p":-73.8},{"f":4149,"p":-70.9},{"f":4470,"p":-69.1},{"f":4774,"p":-63.6},{"f":5097,"p":-60.0},{"f":5391,"p":-63.6},{"f":5757,"p":-69.1},{"f":6033,"p":-78.1},{"f":6624,"p":-83.6},{"f":7274,"p":-89.1},{"f":7989,"p":-92.0},{"f":8773,"p":-93.8},{"f":9632,"p":-96.3},{"f":11610,"p":-98.1},{"f":14000,"p":-99.2},{"f":16890,"p":-101.8},{"f":20370,"p":-104.3},{"f":24560,"p":-107.2},{"f":29620,"p":-110.1},{"f":35720,"p":-112.7},{"f":39230,"p":-116.3},{"f":43070,"p":-118.9},{"f":47300,"p":-122.5},{"f":51940,"p":-116.3},{"f":57030,"p":-118.1},{"f":62620,"p":-116.3},{"f":68770,"p":-118.9},{"f":75500,"p":-115.2},{"f":82900,"p":-118.1},{"f":91100,"p":-116.3},{"f":100000,"p":-112.7},{"f":109800,"p":-116.3},{"f":120600,"p":-114.5},{"f":132400,"p":-118.1},{"f":145400,"p":-114.5},{"f":159700,"p":-116.3},{"f":175400,"p":-120.0},{"f":192600,"p":-114.5},{"f":211500,"p":-118.1},{"f":232300,"p":-121.8},{"f":255000,"p":-116.3},{"f":280000,"p":-128.3},{"f":307600,"p":-118.1},{"f":337700,"p":-121.8},{"f":370700,"p":-116.3},{"f":407400,"p":-125.4},{"f":446700,"p":-118.1},{"f":491000,"p":-121.8},{"f":539000,"p":-119.0},{"f":591600,"p":-121.0},{"f":650100,"p":-123.6},{"f":714000,"p":-122.5},{"f":783700,"p":-126.1},{"f":861000,"p":-129.1},{"f":945500,"p":-130.9},{"f":1038000,"p":-128.3},{"f":1140000,"p":-132.7},{"f":1252000,"p":-135.6},{"f":1374000,"p":-130.9},{"f":1510000,"p":-133.4},{"f":1658000,"p":-130.1},{"f":1820000,"p":-132.7},{"f":1997000,"p":-130.9},{"f":2193000,"p":-133.4},{"f":2410000,"p":-132.0},{"f":3000000,"p":-132.0}]
},
"vconcat":[
{"hconcat":[
 {"width":333,"height":112,"title":{"text":"a"},
  "resolve":{"axis":{"x":"independent","y":"independent"}},
  "layer":[
   {"data":{"name":"a_comb"},"mark":{"type":"rule","color":"#3d8fd6","strokeWidth":1,"clip":true},
    "encoding":{"x":{"field":"wl","type":"quantitative","scale":{"domain":[1433,1677],"nice":false,"zero":false},"axis":{"values":[1450,1500,1550,1600,1650],"labelExpr":"datum.value % 100 == 50 ? '' + datum.value : ''","title":"Wavelength (nm)"}},
     "y":{"field":"p","type":"quantitative","scale":{"domain":[-74.7,-15.7],"nice":false,"zero":false},"axis":{"values":[-70,-60,-50,-40,-30,-20],"labels":false,"title":"Power (10 dB/div)"}},
     "y2":{"datum":-74.7}}},
   {"data":{"name":"a_floor"},"mark":{"type":"area","color":"#0b6dbd","clip":true},
    "encoding":{"x":{"field":"wl","type":"quantitative","axis":{"orient":"top","labels":false,"title":null,"values":[1450,1500,1550,1600,1650]}},
     "y":{"field":"p","type":"quantitative","axis":{"orient":"right","labels":false,"title":null,"values":[-70,-60,-50,-40,-30,-20]}},
     "y2":{"datum":-74.7}}},
   {"data":{"values":[{"wl":1644.7,"p":-21.3,"t":"200 GHz"}]},"mark":{"type":"text","fontSize":12,"font":"Liberation Sans"},
    "encoding":{"x":{"field":"wl","type":"quantitative","axis":null},"y":{"field":"p","type":"quantitative","axis":null},"text":{"field":"t"}}}
  ]},
 {"width":332,"height":106,"title":{"text":"b","dx":5},
  "resolve":{"axis":{"x":"independent","y":"independent"}},
  "layer":[
   {"data":{"name":"b_env"},"mark":{"type":"area","color":"#0072bd","clip":true},
    "encoding":{"x":{"field":"wl","type":"quantitative","scale":{"domain":[1400,1700],"nice":false,"zero":false},"axis":{"values":[1400,1450,1500,1550,1600,1650,1700],"labelExpr":"datum.value % 100 == 0 ? '' + datum.value : ''","title":"Wavelength (nm)"}},
     "y":{"field":"top","type":"quantitative","scale":{"domain":[-57,-10],"nice":false,"zero":false},"axis":{"values":[-50,-40,-30,-20],"labels":false,"title":null}},
     "y2":{"field":"bot"}}},
   {"data":{"name":"b_spk"},"mark":{"type":"rule","color":"#0072bd","strokeWidth":1,"clip":true},
    "encoding":{"x":{"field":"wl","type":"quantitative","axis":{"orient":"top","labels":false,"title":null,"values":[1400,1450,1500,1550,1600,1650,1700]}},
     "y":{"field":"top","type":"quantitative","axis":{"orient":"right","labels":false,"title":null,"values":[-50,-40,-30,-20]}},
     "y2":{"field":"base"}}},
   {"data":{"values":[{"wl":1665.7,"p":-15.4,"t":"44.84 GHz"}]},"mark":{"type":"text","fontSize":12,"font":"Liberation Sans"},
    "encoding":{"x":{"field":"wl","type":"quantitative","axis":null},"y":{"field":"p","type":"quantitative","axis":null},"text":{"field":"t"}}}
  ]},
 {"width":72,"height":106,
  "resolve":{"axis":{"x":"independent","y":"independent"}},
  "layer":[
   {"data":{"name":"inset"},"mark":{"type":"line","color":"#cc0000","strokeWidth":1,"clip":true},
    "encoding":{"x":{"field":"f","type":"quantitative","scale":{"domain":[-2,2],"nice":false,"zero":false},"axis":{"values":[-2,0,2],"labelExpr":"'' + datum.value","title":["Frequency","(MHz+44.8484GHz)"],"titleFontSize":10,"titleX":32,"titleLineHeight":11}},
     "y":{"field":"p","type":"quantitative","scale":{"domain":[-72,-30.5],"nice":false,"zero":false},"axis":{"values":[-65,-60,-55,-50,-45,-40,-35],"labels":false,"title":"Power (5dB/div)","titlePadding":1}}}},
   {"data":{"name":"inset"},"mark":{"type":"line","opacity":0},
    "encoding":{"x":{"field":"f","type":"quantitative","axis":{"orient":"top","labels":false,"title":null,"values":[-2,0,2]}},
     "y":{"field":"p","type":"quantitative","axis":{"orient":"right","labels":false,"title":null,"values":[-65,-60,-55,-50,-45,-40,-35]}}}}
  ]}
],"spacing":20,"bounds":"flush"},
{"vconcat":[
{"hconcat":[
 {"width":317,"height":113,"title":{"text":"c"},
  "resolve":{"axis":{"x":"independent","y":"independent"}},
  "layer":[
   {"data":{"name":"c_env"},"mark":{"type":"area","color":"#0072bd","clip":true},
    "encoding":{"x":{"field":"wl","type":"quantitative","scale":{"domain":[1450,1650],"nice":false,"zero":false},"axis":{"values":[1450,1500,1550,1600,1650],"labelExpr":"'' + datum.value","title":"Wavelength (nm)"}},
     "y":{"field":"top","type":"quantitative","scale":{"domain":[-65,-10],"nice":false,"zero":false},"axis":{"values":[-60,-55,-50,-45,-40,-35,-30,-25,-20,-15],"labels":false,"title":"Power (5 dB/div)"}},
     "y2":{"field":"bot"}}},
   {"data":{"name":"c_spk"},"mark":{"type":"rule","color":"#2a84cc","strokeWidth":1,"clip":true},
    "encoding":{"x":{"field":"wl","type":"quantitative","axis":{"orient":"top","labels":false,"title":null,"values":[1450,1500,1550,1600,1650]}},
     "y":{"field":"top","type":"quantitative","axis":{"orient":"right","labels":false,"title":null,"values":[-60,-55,-50,-45,-40,-35,-30,-25,-20,-15]}},
     "y2":{"datum":-66}}},
   {"data":{"values":[{"wl":1620.9,"p":-14.5,"t":"19.8 GHz"}]},"mark":{"type":"text","fontSize":12,"font":"Liberation Sans"},
    "encoding":{"x":{"field":"wl","type":"quantitative","axis":null},"y":{"field":"p","type":"quantitative","axis":null},"text":{"field":"t"}}}
  ]},
 {"width":91,"height":112,"title":{"text":"d"},
  "resolve":{"axis":{"x":"independent","y":"independent"}},
  "layer":[
   {"data":{"name":"d"},"mark":{"type":"line","color":"#0072bd","strokeWidth":1,"clip":true},
    "encoding":{"x":{"field":"f","type":"quantitative","scale":{"domain":[-0.8,0.8],"nice":false,"zero":false},"axis":{"values":[-0.8,0,0.8],"labelExpr":"'' + datum.value","title":["Frequency","(MHz+19.8194 GHz)"]}},
     "y":{"field":"p","type":"quantitative","scale":{"domain":[-101.6,-10.8],"nice":false,"zero":false},"axis":{"values":[-100,-90,-80,-70,-60,-50,-40,-30,-20],"labelExpr":"datum.value % 20 == 0 ? '' + datum.value : ''","title":"Power (dBm)","labelPadding":5}}}},
   {"data":{"name":"d"},"mark":{"type":"line","opacity":0},
    "encoding":{"x":{"field":"f","type":"quantitative","axis":{"orient":"top","labels":false,"title":null,"values":[-0.8,0,0.8]}},
     "y":{"field":"p","type":"quantitative","axis":{"orient":"right","labels":false,"title":null,"values":[-100,-90,-80,-70,-60,-50,-40,-30,-20]}}}}
  ]},
 {"width":285,"height":112,"title":{"text":"e"},
  "resolve":{"axis":{"x":"independent","y":"independent"}},
  "layer":[
   {"data":{"name":"e"},"mark":{"type":"line","color":"#edb120","strokeWidth":1,"clip":true},
    "encoding":{"x":{"field":"f","type":"quantitative","scale":{"type":"log","domain":[1000,3000000],"nice":false},"axis":{"values":[1000,2000,3000,4000,5000,6000,7000,8000,9000,10000,20000,30000,40000,50000,60000,70000,80000,90000,100000,200000,300000,400000,500000,600000,700000,800000,900000,1000000,2000000,3000000],"labelExpr":"datum.value == 1000 ? '1k' : datum.value == 10000 ? '10k' : datum.value == 100000 ? '100k' : datum.value == 1000000 ? '1M' : datum.value == 3000000 ? '3M' : ''","labelAlign":{"condition":{"test":"datum.value == 3000000","value":"right"},"value":"center"},"title":"Frequency (Hz)"}},
     "y":{"field":"p","type":"quantitative","scale":{"domain":[-144,-20],"nice":false,"zero":false},"axis":{"values":[-140,-120,-100,-80,-60,-40,-20],"labelExpr":"'' + datum.value","title":"Phase noise (dBc/Hz)","labelPadding":5}}}},
   {"data":{"name":"e"},"mark":{"type":"line","opacity":0},
    "encoding":{"x":{"field":"f","type":"quantitative","scale":{"type":"log","domain":[1000,3000000],"nice":false},"axis":{"orient":"top","labels":false,"title":null,"values":[1000,2000,3000,4000,5000,6000,7000,8000,9000,10000,20000,30000,40000,50000,60000,70000,80000,90000,100000,200000,300000,400000,500000,600000,700000,800000,900000,1000000,2000000,3000000]}},
     "y":{"field":"p","type":"quantitative","axis":{"orient":"right","labels":false,"title":null,"values":[-140,-120,-100,-80,-60,-40,-20]}}}}
  ]}
],"spacing":43,"bounds":"flush"},
{"hconcat":[
 {"width":317,"height":105,"title":{"text":"f"},
  "resolve":{"axis":{"x":"independent","y":"independent"}},
  "layer":[
   {"data":{"name":"f_env"},"mark":{"type":"area","color":"#0072bd","clip":true},
    "encoding":{"x":{"field":"wl","type":"quantitative","scale":{"domain":[1450,1650],"nice":false,"zero":false},"axis":{"values":[1450,1500,1550,1600,1650],"labelExpr":"'' + datum.value","title":"Wavelength (nm)"}},
     "y":{"field":"top","type":"quantitative","scale":{"domain":[-65.1,-15.4],"nice":false,"zero":false},"axis":{"values":[-60,-55,-50,-45,-40,-35,-30,-25,-20],"labels":false,"title":"Power (5 dB/div)"}},
     "y2":{"field":"bot"}}},
   {"data":{"name":"f_spk"},"mark":{"type":"rule","color":"#4a9ad8","strokeWidth":1,"clip":true},
    "encoding":{"x":{"field":"wl","type":"quantitative","axis":{"orient":"top","labels":false,"title":null,"values":[1450,1500,1550,1600,1650]}},
     "y":{"field":"top","type":"quantitative","axis":{"orient":"right","labels":false,"title":null,"values":[-60,-55,-50,-45,-40,-35,-30,-25,-20]}},
     "y2":{"datum":-66}}},
   {"data":{"values":[{"wl":1618.9,"p":-20.6,"t":"13.5 GHz"}]},"mark":{"type":"text","fontSize":12,"font":"Liberation Sans"},
    "encoding":{"x":{"field":"wl","type":"quantitative","axis":null},"y":{"field":"p","type":"quantitative","axis":null},"text":{"field":"t"}}}
  ]},
 {"width":91,"height":113,"title":{"text":"g"},
  "resolve":{"axis":{"x":"independent","y":"independent"}},
  "layer":[
   {"data":{"name":"g"},"mark":{"type":"line","color":"#2a84cc","strokeWidth":1,"clip":true},
    "encoding":{"x":{"field":"f","type":"quantitative","scale":{"domain":[-0.8,0.8],"nice":false,"zero":false},"axis":{"values":[-0.8,0,0.8],"labelExpr":"'' + datum.value","title":["Frequency","(MHz+13.4949 GHz)"]}},
     "y":{"field":"p","type":"quantitative","scale":{"domain":[-110.2,-10.3],"nice":false,"zero":false},"axis":{"values":[-100,-90,-80,-70,-60,-50,-40,-30,-20],"labelExpr":"datum.value % 20 == 0 ? '' + datum.value : ''","title":"Power (dBm)","labelPadding":5}}}},
   {"data":{"name":"g"},"mark":{"type":"line","opacity":0},
    "encoding":{"x":{"field":"f","type":"quantitative","axis":{"orient":"top","labels":false,"title":null,"values":[-0.8,0,0.8]}},
     "y":{"field":"p","type":"quantitative","axis":{"orient":"right","labels":false,"title":null,"values":[-100,-90,-80,-70,-60,-50,-40,-30,-20]}}}}
  ]},
 {"width":284,"height":113,"title":{"text":"h"},
  "resolve":{"axis":{"x":"independent","y":"independent"}},
  "layer":[
   {"data":{"name":"h"},"mark":{"type":"line","color":"#edb120","strokeWidth":1,"clip":true},
    "encoding":{"x":{"field":"f","type":"quantitative","scale":{"type":"log","domain":[1000,3000000],"nice":false},"axis":{"values":[1000,2000,3000,4000,5000,6000,7000,8000,9000,10000,20000,30000,40000,50000,60000,70000,80000,90000,100000,200000,300000,400000,500000,600000,700000,800000,900000,1000000,2000000,3000000],"labelExpr":"datum.value == 1000 ? '1k' : datum.value == 10000 ? '10k' : datum.value == 100000 ? '100k' : datum.value == 1000000 ? '1M' : datum.value == 3000000 ? '3M' : ''","labelAlign":{"condition":{"test":"datum.value == 3000000","value":"right"},"value":"center"},"title":"Frequency (Hz)"}},
     "y":{"field":"p","type":"quantitative","scale":{"domain":[-143,-20],"nice":false,"zero":false},"axis":{"values":[-140,-120,-100,-80,-60,-40,-20],"labelExpr":"'' + datum.value","title":"Phase noise (dBc/Hz)","labelPadding":5}}}},
   {"data":{"name":"h"},"mark":{"type":"line","opacity":0},
    "encoding":{"x":{"field":"f","type":"quantitative","scale":{"type":"log","domain":[1000,3000000],"nice":false},"axis":{"orient":"top","labels":false,"title":null,"values":[1000,2000,3000,4000,5000,6000,7000,8000,9000,10000,20000,30000,40000,50000,60000,70000,80000,90000,100000,200000,300000,400000,500000,600000,700000,800000,900000,1000000,2000000,3000000]}},
     "y":{"field":"p","type":"quantitative","axis":{"orient":"right","labels":false,"title":null,"values":[-140,-120,-100,-80,-60,-40,-20]}}}}
  ]}
],"spacing":44,"bounds":"flush"}
],"spacing":-1}
],
"spacing":-6,
"config":{
 "font":"Liberation Sans",
 "view":{"stroke":"#555555","strokeWidth":1},
 "axis":{"grid":false,"domain":false,"tickSize":-3,"tickColor":"#333333","labelFont":"Liberation Sans","labelFontSize":11.5,"titleFont":"Liberation Sans","titleFontSize":11.5,"titleFontWeight":"normal","titleLineHeight":11,"labelColor":"#000000","titleColor":"#000000","labelPadding":7,"titlePadding":1,"minExtent":0,"labelOverlap":false,"labelFlush":false},
 "axisX":{"titlePadding":-1},
 "axisY":{"titleFontSize":11.5,"titlePadding":4},
 "title":{"fontSize":14,"fontWeight":"bold","anchor":"start","frame":"bounds","offset":4,"font":"Liberation Sans"}
}
}
